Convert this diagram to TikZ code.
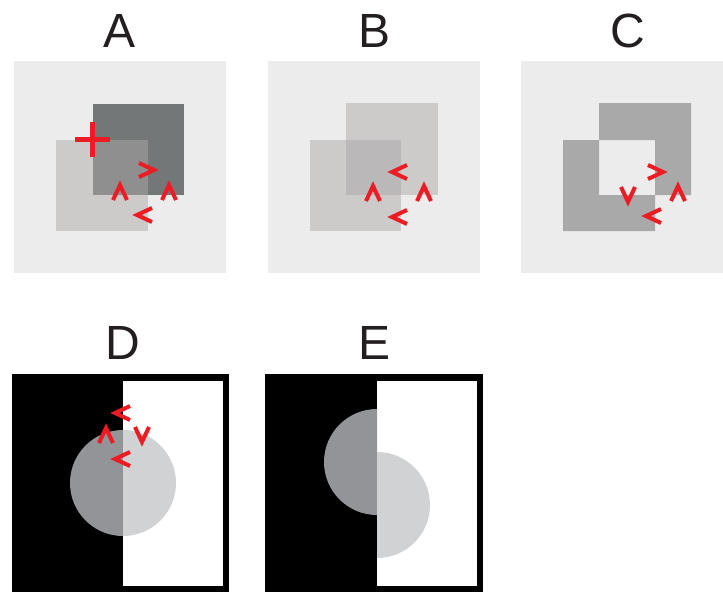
\documentclass[tikz,border=0pt]{standalone}
\usepackage{fontspec}
\setmainfont{Liberation Sans}
\usetikzlibrary{positioning}
\definecolor{panelgray}{HTML}{ECECEC}
\definecolor{titleblack}{HTML}{231F20}
\definecolor{markred}{HTML}{ED1C24}
\definecolor{slatedark}{HTML}{747777}
\definecolor{slatemid}{HTML}{8F8F8F}
\definecolor{paleside}{HTML}{CDCACA}
\definecolor{paleoverlap}{HTML}{BAB8B9}
\definecolor{flatgray}{HTML}{A9A9A9}
\definecolor{diskdark}{HTML}{939497}
\definecolor{disklight}{HTML}{D1D2D4}

\begin{document}
\begin{tikzpicture}[x=1pt, y=-1pt,
  paneltitle/.style={anchor=base, inner sep=0pt, text=titleblack, font=\fontsize{48}{48}\selectfont},
  chevron/.style={draw=markred, line width=4pt, line join=miter},
  pics/chev/.style={code={\draw[chevron, rotate=#1] (-8,-7) -- (7,0) -- (-8,7);}}]
\useasboundingbox (0,0) rectangle (723,592);

% titles
\node[paneltitle] (titleA) at (120,47) {A};
\node[paneltitle] (titleB) at (375,47) {B};
\node[paneltitle] (titleC) at (628,47) {C};
\node[paneltitle] (titleD) at (123,359) {D};
\node[paneltitle] (titleE) at (375,359) {E};

% panel A
\fill[panelgray] (14,61) rectangle (226,273);
\fill[paleside] (56,140) rectangle (148,231);
\fill[slatedark] (93,104) rectangle (184,195);
\fill[slatemid] (93,140) rectangle (148,195);
\draw[markred, line width=5pt] (75,139) -- (110,139);
\draw[markred, line width=5pt] (92,122) -- (92,157);
\pic at (147,170) {chev=0};
\pic at (120,192) {chev=90};
\pic at (169,192) {chev=90};
\pic at (144,215) {chev=180};

% panel B
\fill[panelgray] (268,61) rectangle (480,273);
\fill[paleside] (346,103) rectangle (438,195);
\fill[paleside] (310,140) rectangle (401,231);
\fill[paleoverlap] (346,140) rectangle (401,195);
\pic at (399,172) {chev=180};
\pic at (373,193) {chev=90};
\pic at (424,193) {chev=90};
\pic at (399,217) {chev=180};

% panel C
\fill[panelgray] (521,61) rectangle (723,273);
\fill[flatgray, even odd rule] (599,103) rectangle (691,195) (563,140) rectangle (655,231);
\pic at (656,172) {chev=0};
\pic at (628,195) {chev=-90};
\pic at (678,193) {chev=90};
\pic at (653,216) {chev=180};

% panel D
\fill[black] (12,374) rectangle (229,592);
\fill[white] (123,381) rectangle (223,586);
\begin{scope}
\clip (0,374) rectangle (123,592);
\fill[diskdark] (123,483) circle[radius=53];
\end{scope}
\begin{scope}
\clip (123,374) rectangle (229,592);
\fill[disklight] (123,483) circle[radius=53];
\end{scope}
\pic at (122,413) {chev=180};
\pic at (106,435) {chev=90};
\pic at (142,435) {chev=-90};
\pic at (122,459) {chev=180};

% panel E
\fill[black] (265,374) rectangle (483,592);
\fill[white] (377,381) rectangle (477,586);
\begin{scope}
\clip (250,374) rectangle (377,592);
\fill[diskdark] (377,462) circle[radius=53];
\end{scope}
\begin{scope}
\clip (377,374) rectangle (483,592);
\fill[disklight] (377,505) circle[radius=53];
\end{scope}
\end{tikzpicture}
\end{document}
